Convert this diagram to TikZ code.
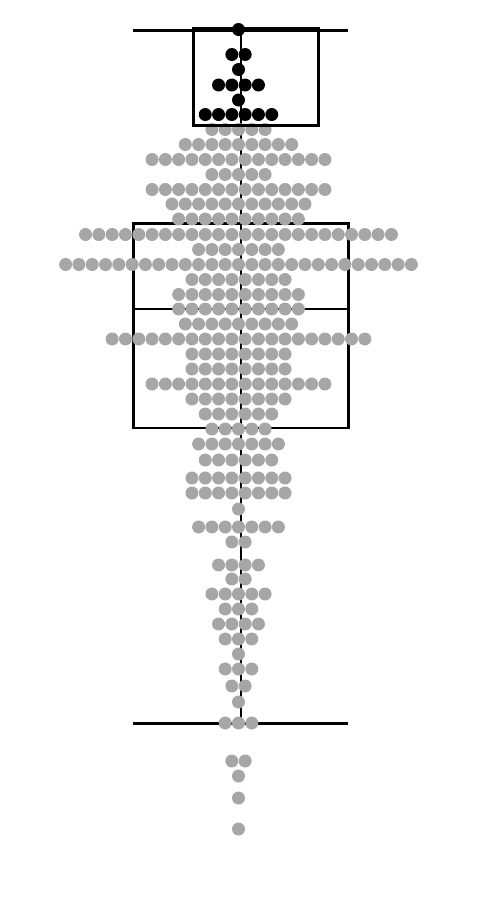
\documentclass[tikz,border=0pt]{standalone}
\usepackage{xcolor}
\definecolor{dotgray}{RGB}{166,166,166}

\begin{document}
\begin{tikzpicture}[
		x=0.02cm, y=-0.02cm,
		boxline/.style={draw=black, line width=1.7pt},
		stem/.style={draw=black, line width=1.2pt},
		graydot/.style={fill=dotgray},
		blackdot/.style={fill=black}
		]
		\useasboundingbox (0,0) rectangle (489,903);
		
		% --- Whiskers (shared centre line) ---
		\coordinate (topcap) at (240.7,30.5);
		\coordinate (botcap) at (240.7,723);
		\draw[stem] (topcap) -- (botcap);
		\draw[boxline] (133,30.5) -- (348,30.5);
		\draw[boxline] (133,723) -- (348,723);
		
		% --- Gray box ---
		\draw[boxline] (133.5,223.5) rectangle (348.3,428);
		\draw[boxline] (133.5,309) -- (348.3,309);
		
		% --- Gray dots (row y / count) ---
		\foreach \yy/\n in {129.5/5, 144.5/9, 159.5/14, 174.5/5, 189.5/14, 204/11,
			219/10, 234.5/24, 249.5/7, 264.5/27, 279.5/8, 294.5/10, 309/10, 324/9,
			339/20, 354/8, 369/8, 384/14, 399/8, 414/6, 429/5, 444/7, 460/6, 478/8,
			493/8, 509/1, 527/7, 542/2, 565/4, 579/2, 594/5, 609/3, 624/4, 639/3,
			654/1, 669/3, 686/2, 702/1, 723/3, 761/2, 776/1, 798/1, 829/1} {
			\foreach \i in {1,...,\n} {
				\fill[graydot] ({238.5+(\i-(\n+1)/2)*13.3},\yy) circle[radius=6.5];
			}
		}
		
		% --- Black box ---
		\draw[boxline] (193.5,28.5) rectangle (318.5,125.5);
		
		% --- Black dots ---
		\foreach \yy/\n in {29.5/1, 54.5/2, 69.5/1, 85/4, 100/1, 114.5/6} {
			\foreach \i in {1,...,\n} {
				\fill[blackdot] ({238.5+(\i-(\n+1)/2)*13.3},\yy) circle[radius=6.5];
			}
		}
		
	\end{tikzpicture}
\end{document}
